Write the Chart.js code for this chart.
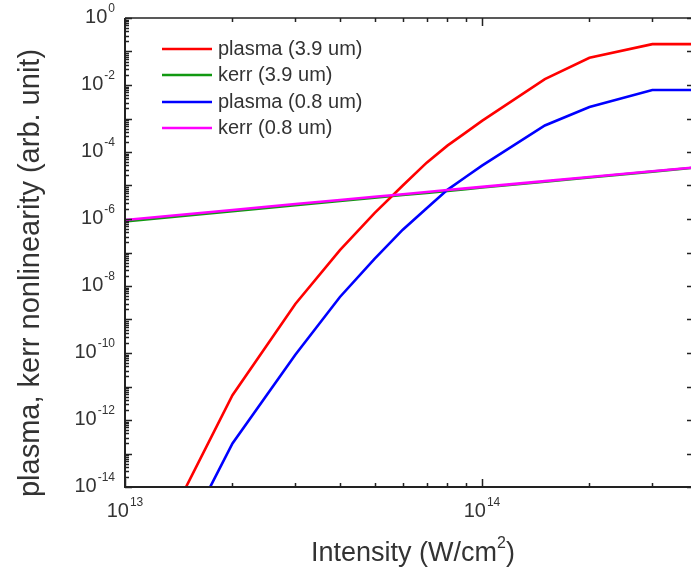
<!DOCTYPE html>
<html>
<head>
<meta charset="utf-8">
<script src="https://cdn.jsdelivr.net/npm/chart.js@4/dist/chart.umd.min.js"></script>
<style>
  html, body { margin: 0; padding: 0; background: #fff; }
  #wrap { width: 691px; height: 575px; position: relative; }
</style>
</head>
<body>
<div id="wrap"><canvas id="c" width="691" height="575"></canvas></div>
<script>
// Laser intensity samples (W/cm^2)
const intensity = [1e13, 2e13, 3e13, 4e13, 5e13, 6e13, 7e13, 8e13, 9e13, 1e14, 1.5e14, 2e14, 3e14, 4e14];

// Nonlinearity strength (arb. unit) for each intensity
const plasma39 = [2.5e-18, 5.5e-12, 2.9e-9, 1.17e-7, 1.5e-6, 1.0e-5, 4.8e-5, 1.55e-4, 3.8e-4, 8.5e-4, 1.5e-2, 6.5e-2, 0.166, 0.166];
const kerr39   = [8.4e-7, 1.7e-6, 2.6e-6, 3.45e-6, 4.3e-6, 5.2e-6, 6.0e-6, 6.9e-6, 7.8e-6, 8.7e-6, 1.3e-5, 1.74e-5, 2.6e-5, 3.45e-5];
const plasma08 = [1.1e-19, 2.0e-13, 8.9e-11, 4.7e-9, 6.5e-8, 4.8e-7, 2.1e-6, 7.4e-6, 1.8e-5, 3.9e-5, 6.2e-4, 2.2e-3, 7.1e-3, 7.1e-3];
const kerr08   = [9.3e-7, 1.85e-6, 2.8e-6, 3.7e-6, 4.6e-6, 5.5e-6, 6.4e-6, 7.3e-6, 8.2e-6, 9.1e-6, 1.35e-5, 1.8e-5, 2.65e-5, 3.5e-5];

const seriesLabels = ['plasma (3.9 um)', 'kerr (3.9 um)', 'plasma (0.8 um)', 'kerr (0.8 um)'];
const seriesColors = ['#ff0000', '#119911', '#0000ff', '#ff00ff'];

// Axis decorations
const xMajorTicks = [1e13, 1e14];
const xMinorTicks = [2e13, 3e13, 4e13, 5e13, 6e13, 7e13, 8e13, 9e13, 2e14, 3e14];
const xTickLabels = [[1e13, '10', '13'], [1e14, '10', '14']];
const yExponents = [0, -1, -2, -3, -4, -5, -6, -7, -8, -9, -10, -11, -12, -13, -14];
const yLabelExponents = [0, -2, -4, -6, -8, -10, -12, -14];
const xTitle = ['Intensity (W/cm', '2', ')'];
const yTitle = 'plasma, kerr nonlinearity (arb. unit)';

const FONT = '"Liberation Sans", Arial, Helvetica, sans-serif';
const TEXT = '#333333';

function pts(vals) { return intensity.map((v, i) => ({ x: v, y: vals[i] })); }

const seriesValues = [plasma39, kerr39, plasma08, kerr08];
// kerr (3.9 um) sits under kerr (0.8 um), so draw order keeps magenta on top
const drawOrder = [1, 0, 2, 3];

const datasets = seriesValues.map((vals, i) => ({
  label: seriesLabels[i],
  data: pts(vals),
  borderColor: seriesColors[i],
  backgroundColor: seriesColors[i],
  borderWidth: 2.6,
  pointRadius: 0,
  tension: 0,
  fill: false,
  order: drawOrder.length - drawOrder.indexOf(i)
}));

function drawPower(ctx, x, yMid, base, exp, align, size) {
  ctx.save();
  ctx.fillStyle = TEXT;
  ctx.textBaseline = 'middle';
  const bigFont = size + 'px ' + FONT;
  const smallFont = Math.round(size * 0.58) + 'px ' + FONT;
  ctx.font = bigFont;
  const wb = ctx.measureText(base).width;
  ctx.font = smallFont;
  const we = ctx.measureText(exp).width;
  const total = wb + 1 + we;
  let x0 = align === 'right' ? x - total : x - total / 2;
  ctx.font = bigFont;
  ctx.textAlign = 'left';
  ctx.fillText(base, x0, yMid);
  ctx.font = smallFont;
  ctx.fillText(exp, x0 + wb + 1, yMid - size * 0.42);
  ctx.restore();
}

const framePlugin = {
  id: 'frame',
  afterDraw(chart) {
    const { ctx, chartArea: { left, right, top, bottom }, scales: { x, y } } = chart;
    ctx.save();
    ctx.strokeStyle = '#222';
    ctx.lineCap = 'butt';

    // frame: left, bottom, top
    ctx.lineWidth = 2;
    ctx.beginPath();
    ctx.moveTo(left, top); ctx.lineTo(left, bottom); ctx.lineTo(right, bottom);
    ctx.stroke();
    ctx.lineWidth = 1.5;
    ctx.beginPath();
    ctx.moveTo(left, top); ctx.lineTo(right, top);
    ctx.stroke();

    // y ticks (inward)
    ctx.lineWidth = 1.5;
    yExponents.forEach(e => {
      const yp = Math.round(y.getPixelForValue(Math.pow(10, e))) + 0.5;
      ctx.beginPath();
      ctx.moveTo(left, yp); ctx.lineTo(left + 7, yp);
      ctx.moveTo(right, yp); ctx.lineTo(right - 4, yp);
      ctx.stroke();
      if (e > -14) {
        for (let m = 2; m <= 9; m++) {
          const ym = Math.round(y.getPixelForValue(m * Math.pow(10, e - 1))) + 0.5;
          ctx.beginPath();
          ctx.moveTo(left, ym); ctx.lineTo(left + 4, ym);
          ctx.stroke();
        }
      }
    });

    // x ticks (inward, bottom and top)
    xMajorTicks.forEach(v => {
      const xp = Math.round(x.getPixelForValue(v)) + 0.5;
      ctx.beginPath();
      ctx.moveTo(xp, bottom); ctx.lineTo(xp, bottom - 8);
      ctx.moveTo(xp, top); ctx.lineTo(xp, top + 8);
      ctx.stroke();
    });
    xMinorTicks.forEach(v => {
      const xp = Math.round(x.getPixelForValue(v)) + 0.5;
      ctx.beginPath();
      ctx.moveTo(xp, bottom); ctx.lineTo(xp, bottom - 4);
      ctx.moveTo(xp, top); ctx.lineTo(xp, top + 4);
      ctx.stroke();
    });

    // tick labels
    yLabelExponents.forEach(e => {
      const yp = y.getPixelForValue(Math.pow(10, e));
      drawPower(ctx, left - 10, yp - 1, '10', String(e), 'right', 20);
    });
    xTickLabels.forEach(([v, b, e]) => {
      drawPower(ctx, x.getPixelForValue(v), bottom + 24, b, e, 'center', 20);
    });

    // axis titles
    ctx.fillStyle = TEXT;
    ctx.textBaseline = 'middle';
    ctx.save();
    ctx.translate(31, 273);
    ctx.rotate(-Math.PI / 2);
    ctx.font = '29px ' + FONT;
    ctx.textAlign = 'center';
    ctx.fillText(yTitle, 0, 0);
    ctx.restore();

    ctx.font = '27px ' + FONT;
    const w1 = ctx.measureText(xTitle[0]).width;
    const w3 = ctx.measureText(xTitle[2]).width;
    ctx.font = '16px ' + FONT;
    const w2 = ctx.measureText(xTitle[1]).width;
    const tx = 413 - (w1 + w2 + w3) / 2;
    ctx.textAlign = 'left';
    ctx.font = '27px ' + FONT;
    ctx.fillText(xTitle[0], tx, 554);
    ctx.font = '16px ' + FONT;
    ctx.fillText(xTitle[1], tx + w1, 544);
    ctx.font = '27px ' + FONT;
    ctx.fillText(xTitle[2], tx + w1 + w2, 554);

    // legend
    const legendRows = [49, 75, 102, 128];
    ctx.font = '20px ' + FONT;
    ctx.textBaseline = 'middle';
    seriesLabels.forEach((lab, i) => {
      const ly = legendRows[i];
      ctx.strokeStyle = seriesColors[i];
      ctx.lineWidth = 2.6;
      ctx.beginPath();
      ctx.moveTo(162, ly); ctx.lineTo(212, ly);
      ctx.stroke();
      ctx.fillStyle = TEXT;
      ctx.fillText(lab, 218, ly);
    });
    ctx.restore();
  }
};

new Chart(document.getElementById('c'), {
  type: 'line',
  data: { datasets },
  options: {
    responsive: false,
    animation: false,
    layout: { padding: { left: 125, right: 0, top: 18, bottom: 88 } },
    plugins: { legend: { display: false }, tooltip: { enabled: false } },
    scales: {
      x: { type: 'logarithmic', min: 1e13, max: 3.85e14, display: false },
      y: { type: 'logarithmic', min: 1e-14, max: 1, display: false }
    }
  },
  plugins: [framePlugin]
});
</script>
</body>
</html>
